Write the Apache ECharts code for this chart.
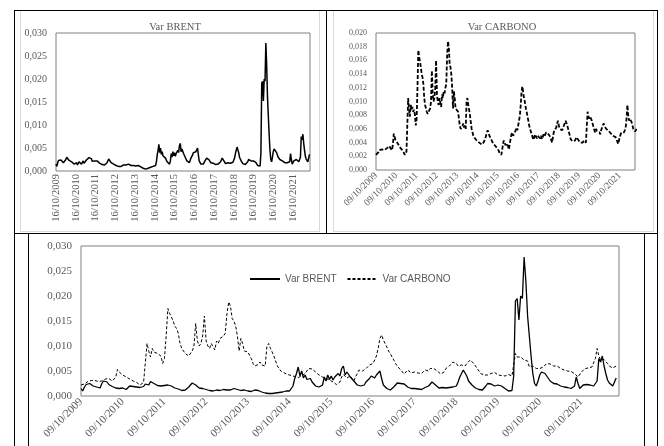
<!DOCTYPE html>
<html>
<head>
<meta charset="utf-8">
<script src="https://cdn.jsdelivr.net/npm/echarts@6/dist/echarts.min.js"></script>
<style>
  html, body { margin: 0; padding: 0; background: #fff; }
  #chart { width: 664px; height: 446px; }
</style>
</head>
<body>
<div id="chart"></div>
<script>
// Sampling: half-month steps, starting October 2009
const FIRST_YEAR = 2009;
const POINTS_PER_YEAR = 24;

// Rolling variance of Brent returns, one row per year from October
const brentVar = [
  [0.0015, 0.0010, 0.0018, 0.0023, 0.0022, 0.0025, 0.0024, 0.0020, 0.0022, 0.0018, 0.0021, 0.0016, 0.0025, 0.0030, 0.0027, 0.0028, 0.0023, 0.0024, 0.0019, 0.0020, 0.0016, 0.0018, 0.0015, 0.0014],
  [0.0016, 0.0018, 0.0013, 0.0017, 0.0020, 0.0016, 0.0019, 0.0015, 0.0018, 0.0022, 0.0017, 0.0021, 0.0019, 0.0024, 0.0026, 0.0022, 0.0029, 0.0031, 0.0025, 0.0027, 0.0021, 0.0023, 0.0020, 0.0022],
  [0.0021, 0.0019, 0.0022, 0.0018, 0.0020, 0.0017, 0.0016, 0.0018, 0.0014, 0.0012, 0.0011, 0.0013, 0.0012, 0.0015, 0.0018, 0.0022, 0.0026, 0.0027, 0.0022, 0.0018, 0.0016, 0.0014, 0.0015, 0.0013],
  [0.0013, 0.0012, 0.0011, 0.0012, 0.0010, 0.0011, 0.0012, 0.0010, 0.0011, 0.0012, 0.0013, 0.0011, 0.0012, 0.0013, 0.0012, 0.0014, 0.0015, 0.0016, 0.0013, 0.0012, 0.0011, 0.0010, 0.0012, 0.0011],
  [0.0010, 0.0011, 0.0009, 0.0011, 0.0012, 0.0013, 0.0011, 0.0009, 0.0008, 0.0007, 0.0006, 0.0005, 0.0005, 0.0004, 0.0005, 0.0005, 0.0006, 0.0005, 0.0007, 0.0008, 0.0008, 0.0009, 0.0010, 0.0009],
  [0.0010, 0.0012, 0.0020, 0.0035, 0.0045, 0.0058, 0.0040, 0.0050, 0.0036, 0.0042, 0.0033, 0.0030, 0.0035, 0.0028, 0.0024, 0.0020, 0.0016, 0.0018, 0.0015, 0.0022, 0.0038, 0.0030, 0.0042, 0.0033],
  [0.0040, 0.0032, 0.0038, 0.0035, 0.0045, 0.0040, 0.0055, 0.0060, 0.0042, 0.0048, 0.0050, 0.0038, 0.0042, 0.0030, 0.0028, 0.0022, 0.0025, 0.0020, 0.0018, 0.0022, 0.0028, 0.0025, 0.0035, 0.0040],
  [0.0038, 0.0036, 0.0042, 0.0040, 0.0050, 0.0035, 0.0022, 0.0018, 0.0015, 0.0013, 0.0012, 0.0015, 0.0018, 0.0022, 0.0026, 0.0028, 0.0025, 0.0027, 0.0024, 0.0020, 0.0018, 0.0016, 0.0015, 0.0017],
  [0.0015, 0.0018, 0.0014, 0.0016, 0.0013, 0.0015, 0.0017, 0.0015, 0.0020, 0.0016, 0.0028, 0.0032, 0.0022, 0.0018, 0.0016, 0.0019, 0.0017, 0.0018, 0.0016, 0.0019, 0.0017, 0.0020, 0.0018, 0.0019],
  [0.0020, 0.0028, 0.0038, 0.0045, 0.0052, 0.0048, 0.0040, 0.0030, 0.0028, 0.0022, 0.0018, 0.0016, 0.0015, 0.0013, 0.0014, 0.0012, 0.0016, 0.0020, 0.0025, 0.0029, 0.0024, 0.0022, 0.0020, 0.0024],
  [0.0022, 0.0025, 0.0020, 0.0018, 0.0015, 0.0012, 0.0010, 0.0009, 0.0011, 0.0040, 0.0190, 0.0195, 0.0152, 0.0200, 0.0195, 0.0278, 0.0230, 0.0160, 0.0120, 0.0080, 0.0045, 0.0025, 0.0020, 0.0030],
  [0.0042, 0.0048, 0.0052, 0.0045, 0.0040, 0.0035, 0.0030, 0.0028, 0.0025, 0.0027, 0.0024, 0.0022, 0.0020, 0.0021, 0.0018, 0.0019, 0.0017, 0.0018, 0.0015, 0.0016, 0.0020, 0.0038, 0.0025, 0.0015],
  [0.0018, 0.0022, 0.0026, 0.0023, 0.0025, 0.0022, 0.0024, 0.0020, 0.0018, 0.0030, 0.0075, 0.0068, 0.0080, 0.0060, 0.0045, 0.0032, 0.0026, 0.0022, 0.0020, 0.0024, 0.0036]
].flat();

// Rolling variance of carbon allowance returns, same sampling
const carbonoVar = [
  [0.0022, 0.0023, 0.0024, 0.0026, 0.0029, 0.0030, 0.0031, 0.0030, 0.0031, 0.0030, 0.0029, 0.0031, 0.0030, 0.0032, 0.0034, 0.0033, 0.0035, 0.0032, 0.0030, 0.0029, 0.0038, 0.0053, 0.0048, 0.0044],
  [0.0042, 0.0040, 0.0038, 0.0036, 0.0034, 0.0032, 0.0030, 0.0029, 0.0027, 0.0025, 0.0022, 0.0024, 0.0027, 0.0028, 0.0105, 0.0090, 0.0078, 0.0095, 0.0088, 0.0092, 0.0085, 0.0088, 0.0080, 0.0065],
  [0.0075, 0.0120, 0.0175, 0.0165, 0.0158, 0.0150, 0.0140, 0.0135, 0.0125, 0.0105, 0.0095, 0.0090, 0.0085, 0.0082, 0.0080, 0.0082, 0.0090, 0.0100, 0.0145, 0.0110, 0.0100, 0.0105, 0.0120, 0.0160],
  [0.0110, 0.0100, 0.0095, 0.0105, 0.0098, 0.0092, 0.0110, 0.0105, 0.0115, 0.0112, 0.0120, 0.0125, 0.0165, 0.0188, 0.0180, 0.0155, 0.0150, 0.0140, 0.0120, 0.0090, 0.0115, 0.0105, 0.0090, 0.0092],
  [0.0088, 0.0085, 0.0075, 0.0065, 0.0060, 0.0062, 0.0063, 0.0068, 0.0062, 0.0065, 0.0060, 0.0100, 0.0105, 0.0095, 0.0088, 0.0080, 0.0070, 0.0060, 0.0055, 0.0050, 0.0048, 0.0046, 0.0044, 0.0043],
  [0.0042, 0.0041, 0.0040, 0.0039, 0.0038, 0.0037, 0.0038, 0.0040, 0.0042, 0.0045, 0.0050, 0.0055, 0.0058, 0.0054, 0.0050, 0.0048, 0.0045, 0.0042, 0.0040, 0.0038, 0.0036, 0.0035, 0.0033, 0.0032],
  [0.0030, 0.0028, 0.0025, 0.0023, 0.0022, 0.0028, 0.0038, 0.0043, 0.0040, 0.0036, 0.0039, 0.0040, 0.0035, 0.0030, 0.0038, 0.0045, 0.0052, 0.0055, 0.0050, 0.0048, 0.0055, 0.0058, 0.0062, 0.0058],
  [0.0065, 0.0072, 0.0080, 0.0095, 0.0115, 0.0122, 0.0112, 0.0105, 0.0098, 0.0090, 0.0085, 0.0078, 0.0072, 0.0065, 0.0060, 0.0058, 0.0052, 0.0048, 0.0044, 0.0045, 0.0052, 0.0050, 0.0046, 0.0050],
  [0.0048, 0.0052, 0.0046, 0.0050, 0.0045, 0.0048, 0.0052, 0.0049, 0.0050, 0.0055, 0.0053, 0.0055, 0.0052, 0.0050, 0.0048, 0.0044, 0.0040, 0.0048, 0.0055, 0.0058, 0.0060, 0.0062, 0.0068, 0.0072],
  [0.0065, 0.0060, 0.0058, 0.0062, 0.0058, 0.0060, 0.0065, 0.0068, 0.0072, 0.0070, 0.0065, 0.0060, 0.0055, 0.0050, 0.0045, 0.0043, 0.0042, 0.0044, 0.0042, 0.0043, 0.0045, 0.0048, 0.0047, 0.0044],
  [0.0042, 0.0040, 0.0041, 0.0042, 0.0040, 0.0042, 0.0043, 0.0041, 0.0040, 0.0042, 0.0085, 0.0078, 0.0075, 0.0078, 0.0076, 0.0072, 0.0073, 0.0070, 0.0058, 0.0055, 0.0060, 0.0057, 0.0055, 0.0058],
  [0.0055, 0.0052, 0.0058, 0.0060, 0.0065, 0.0068, 0.0064, 0.0062, 0.0060, 0.0058, 0.0060, 0.0057, 0.0055, 0.0054, 0.0052, 0.0053, 0.0050, 0.0051, 0.0049, 0.0048, 0.0045, 0.0042, 0.0038, 0.0040],
  [0.0048, 0.0052, 0.0055, 0.0053, 0.0056, 0.0055, 0.0058, 0.0062, 0.0075, 0.0095, 0.0080, 0.0072, 0.0075, 0.0073, 0.0070, 0.0065, 0.0060, 0.0058, 0.0056, 0.0058, 0.0060]
].flat();

// Day/month shown in the yearly date labels of each panel
const brentDayMonth = '16/10/';
const carbonoDayMonth = '09/10/';

const SERIF = '"Liberation Serif", "Times New Roman", serif';
const SANS = '"Liberation Sans", Arial, sans-serif';
const TEXT_GRAY = '#595959';

// x = years elapsed since the first observation
const toPoints = vals => vals.map((v, i) => [i / POINTS_PER_YEAR, v]);

const dateLabel = prefix => v => {
  const r = Math.round(v);
  return Math.abs(v - r) < 1e-6 ? prefix + (FIRST_YEAR + r) : '';
};
const decimalLabel = v => v.toFixed(3).replace('.', ',');

function xAxisFor(gridIndex, maxYears, prefix, rotate, fontSize, margin) {
  return {
    type: 'value', gridIndex, min: 0, max: maxYears, interval: 1,
    axisLine: { show: false }, axisTick: { show: false }, splitLine: { show: false },
    axisLabel: {
      formatter: dateLabel(prefix), rotate, margin,
      color: TEXT_GRAY, fontFamily: SERIF, fontSize,
      showMinLabel: true, showMaxLabel: false, hideOverlap: false
    }
  };
}
function yAxisFor(gridIndex, max, interval, fontSize) {
  return {
    type: 'value', gridIndex, min: 0, max, interval,
    axisLine: { show: false }, axisTick: { show: false }, splitLine: { show: false },
    axisLabel: { formatter: decimalLabel, color: TEXT_GRAY, fontFamily: SERIF, fontSize, margin: 9 }
  };
}

const frame = { show: true, borderColor: '#808080', borderWidth: 1, backgroundColor: 'transparent' };

const hLine = (x1, x2, y, color) => ({ type: 'line', silent: true, shape: { x1, y1: y, x2, y2: y }, style: { stroke: color, lineWidth: 1 } });
const vLine = (x, y1, y2, color) => ({ type: 'line', silent: true, shape: { x1: x, y1, x2: x, y2 }, style: { stroke: color, lineWidth: 1 } });

const chart = echarts.init(document.getElementById('chart'), null, { renderer: 'canvas' });
chart.setOption({
  animation: false,
  backgroundColor: '#fff',
  title: [
    { text: 'Var BRENT', left: 170, top: 17, textAlign: 'center',
      textStyle: { color: TEXT_GRAY, fontFamily: SERIF, fontSize: 10.5, fontWeight: 'normal' } },
    { text: 'Var CARBONO', left: 497, top: 17, textAlign: 'center',
      textStyle: { color: TEXT_GRAY, fontFamily: SERIF, fontSize: 10.5, fontWeight: 'normal' } }
  ],
  legend: {
    left: 244, top: 269, itemWidth: 30, itemHeight: 12, itemGap: 10,
    data: ['Var BRENT', 'Var CARBONO'],
    // line-only keys: hide the marker drawn in the middle of each key
    itemStyle: { color: 'rgba(0,0,0,0)', borderColor: 'rgba(0,0,0,0)', borderWidth: 0 },
    textStyle: { color: TEXT_GRAY, fontFamily: SANS, fontSize: 10 }
  },
  grid: [
    { left: 56, top: 33, width: 254, height: 138, ...frame },
    { left: 376, top: 33, width: 259, height: 137, ...frame },
    { left: 81, top: 246, width: 538, height: 150, ...frame }
  ],
  xAxis: [
    xAxisFor(0, 12.86, brentDayMonth, 90, 10.5, 3),
    xAxisFor(1, 12.75, carbonoDayMonth, 45, 9.5, 4),
    xAxisFor(2, 12.9, carbonoDayMonth, 45, 11, 4)
  ],
  yAxis: [
    yAxisFor(0, 0.03, 0.005, 10),
    yAxisFor(1, 0.02, 0.002, 8),
    yAxisFor(2, 0.03, 0.005, 11)
  ],
  series: [
    { name: 'Var BRENT', type: 'line', xAxisIndex: 2, yAxisIndex: 2, data: toPoints(brentVar),
      symbol: 'none', z: 3, lineStyle: { color: '#000', width: 1.3, type: 'solid' }, itemStyle: { color: '#000' } },
    { name: 'Var CARBONO', type: 'line', xAxisIndex: 2, yAxisIndex: 2, data: toPoints(carbonoVar),
      symbol: 'none', z: 2, lineStyle: { color: '#000', width: 1, type: [3, 2] }, itemStyle: { color: '#000' } },
    { name: 'Var BRENT', type: 'line', xAxisIndex: 0, yAxisIndex: 0, data: toPoints(brentVar),
      symbol: 'none', lineStyle: { color: '#000', width: 1.5 }, itemStyle: { color: '#000' } },
    { name: 'Var CARBONO', type: 'line', xAxisIndex: 1, yAxisIndex: 1, data: toPoints(carbonoVar),
      symbol: 'none', lineStyle: { color: '#000', width: 1.8, type: [4, 2] }, itemStyle: { color: '#000' } }
  ],
  graphic: [
    // light chart-area frames of the two upper panels
    vLine(20.5, 11, 231, '#d9d9d9'), vLine(319.5, 11, 231, '#d9d9d9'), hLine(20, 320, 231.5, '#d9d9d9'),
    vLine(333.5, 11, 231, '#d9d9d9'), vLine(653.5, 11, 231, '#d9d9d9'), hLine(333, 654, 231.5, '#d9d9d9'),
    // table rules
    hLine(14, 658, 10.5, '#000'),
    hLine(14, 658, 233.5, '#000'),
    vLine(14.5, 10, 446, '#000'),
    vLine(326.5, 10, 233, '#000'),
    vLine(657.5, 10, 446, '#000'),
    vLine(28.5, 233, 446, '#000'),
    vLine(644.5, 233, 446, '#000')
  ]
});
</script>
</body>
</html>
